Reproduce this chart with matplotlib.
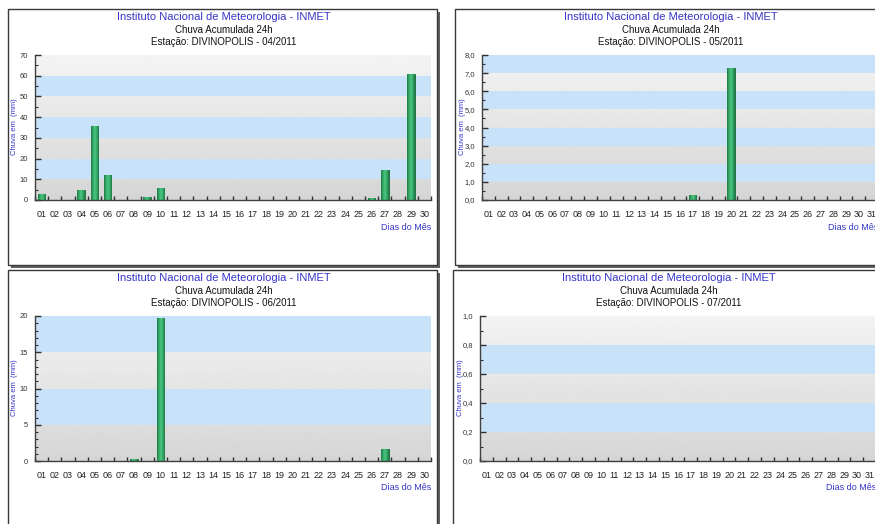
import numpy as np
import matplotlib
matplotlib.use("Agg")
import matplotlib.pyplot as plt
from matplotlib.patches import Rectangle
from matplotlib.colors import LinearSegmentedColormap
from matplotlib.ticker import MultipleLocator, FuncFormatter

plt.rcParams['font.family'] = ['Liberation Sans', 'DejaVu Sans']

W, H = 875, 524

# chuva diária (mm); dias sem barra = 0
months = ["04/2011", "05/2011", "06/2011", "07/2011"]
n_days = [30, 31, 30, 31]

rain_apr = {1: 2.9, 4: 5.0, 5: 35.7, 6: 12.2, 9: 1.4, 10: 5.6, 26: 1.1, 27: 14.3, 29: 60.9}
rain_may = {17: 0.3, 20: 7.3}
rain_jun = {8: 0.3, 10: 19.7, 27: 1.6}
rain_jul = {}
rains = [rain_apr, rain_may, rain_jun, rain_jul]

y_max = [70, 8.0, 20, 1.0]
y_major = [10, 1.0, 5, 0.2]
y_minor = [5, 0.5, 1, 0.1]
y_decimals = [0, 1, 0, 1]

# frame top-left corner of each panel, in pixels
frames = [(8, 9), (455, 9), (8, 270), (453, 270)]

BLUE_TXT = '#3535c8'
BAND_BLUE = '#c8e2fa'
bar_cmap = LinearSegmentedColormap.from_list(
    'bar', ['#1d7a43', '#35a866', '#4cc582', '#35a866', '#1d7a43'])


def fig_rect(x, y, w, h):
    return [x / W, 1 - (y + h) / H, w / W, h / H]


fig = plt.figure(figsize=(W / 100, H / 100), dpi=100)
fig.patch.set_facecolor('white')

for k in range(4):
    fx, fy = frames[k]
    fw, fh = 429, 256
    # shadow + frame
    fig.add_artist(Rectangle(fig_rect(fx + 3, fy + 3, fw, fh)[:2], fw / W, fh / H,
                             transform=fig.transFigure, facecolor='#606060',
                             edgecolor='none', zorder=-2))
    fig.add_artist(Rectangle(fig_rect(fx, fy, fw, fh)[:2], fw / W, fh / H,
                             transform=fig.transFigure, facecolor='white',
                             edgecolor='#383838', lw=1, zorder=-1))

    cx = fx + 216
    fig.text(cx / W, 1 - (fy + 8) / H, "Instituto Nacional de Meteorologia - INMET",
             ha='center', va='center', fontsize=8, color=BLUE_TXT)
    fig.text(cx / W, 1 - (fy + 21) / H, "Chuva Acumulada 24h",
             ha='center', va='center', fontsize=7, color='#111111')
    fig.text(cx / W, 1 - (fy + 33) / H, "Estação: DIVINOPOLIS - " + months[k],
             ha='center', va='center', fontsize=7, color='#111111')

    n = n_days[k]
    ax = fig.add_axes(fig_rect(fx + 27, fy + 46, 396, 145))
    ax.set_xlim(-0.5, n - 0.5)
    ax.set_ylim(0, y_max[k])
    ax.patch.set_visible(False)

    # background: grey gradient with alternating blue bands
    grad = np.linspace(0.835, 0.955, 256).reshape(-1, 1)
    ax.imshow(grad, cmap='gray', vmin=0, vmax=1, aspect='auto', origin='lower',
              extent=[-0.5, n - 0.5, 0, y_max[k]], zorder=0)
    levels = np.arange(0, y_max[k] + 1e-9, y_major[k])
    for i in range(len(levels) - 1):
        if i % 2 == 1:
            ax.axhspan(levels[i], levels[i + 1], color=BAND_BLUE, lw=0, zorder=0.5)

    days = np.arange(1, n + 1)
    vals = [rains[k].get(d, 0) for d in days]
    bars = ax.bar(days - 1, vals, width=0.58, color='#2f9e5c', edgecolor='#17663a',
                  lw=0.6, zorder=2)
    hgrad = np.linspace(0, 1, 64).reshape(1, -1)
    for b in bars:
        if b.get_height() <= 0:
            continue
        im = ax.imshow(hgrad, cmap=bar_cmap, aspect='auto', zorder=2.1,
                       extent=[b.get_x(), b.get_x() + b.get_width(), 0, b.get_height()])
        im.set_clip_path(b)
    ax.set_xlim(-0.5, n - 0.5)
    ax.set_ylim(0, y_max[k])

    for s in ['top', 'right']:
        ax.spines[s].set_visible(False)
    for s in ['left', 'bottom']:
        ax.spines[s].set_color('#404040')
        ax.spines[s].set_linewidth(1)
        ax.spines[s].set_zorder(3)

    ax.set_xticks(np.arange(n + 1) - 0.5)
    ax.set_xticklabels([])
    ax.set_xticks(np.arange(n), minor=True)
    ax.set_xticklabels(["%02d" % d for d in days], minor=True)
    ax.tick_params(axis='x', which='major', direction='in', length=3, width=1,
                   color='#303030')
    ax.tick_params(axis='x', which='minor', length=0, pad=7, labelsize=6.5,
                   labelcolor='#222222')

    ax.yaxis.set_major_locator(MultipleLocator(y_major[k]))
    ax.yaxis.set_minor_locator(MultipleLocator(y_minor[k]))
    dec = y_decimals[k]
    ax.yaxis.set_major_formatter(FuncFormatter(
        lambda v, p, dec=dec: ("%.*f" % (dec, v)).replace('.', ',')))
    ax.tick_params(axis='y', which='major', direction='in', length=4, width=1,
                   color='#303030', labelsize=5.5, labelcolor='#333333', pad=5)
    ax.tick_params(axis='y', which='minor', direction='in', length=2, width=0.8,
                   color='#303030')

    fig.text((fx + 431 - 8) / W, 1 - (fy + 218) / H, "Dias do Mês", ha='right',
             va='center', fontsize=6.5, color=BLUE_TXT)
    fig.text((fx + 7) / W, 1 - (fy + 118) / H, "Chuva em  (mm)", rotation=90,
             ha='center', va='center', fontsize=5.5, color=BLUE_TXT)

fig.savefig("out.png", dpi=100)
